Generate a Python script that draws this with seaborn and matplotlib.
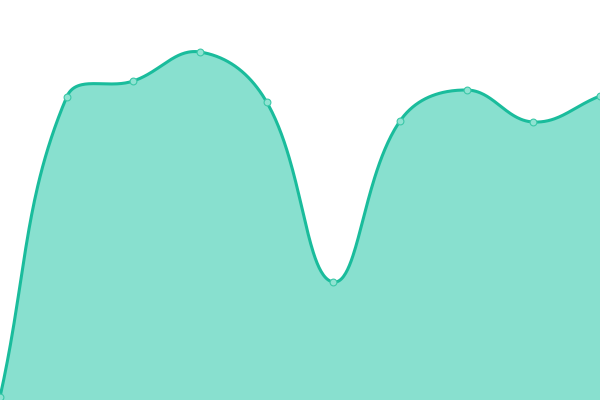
import numpy as np
import pandas as pd
import matplotlib
matplotlib.use("Agg")
import matplotlib.pyplot as plt
import seaborn as sns

# data
categories = list(range(10))
values = [3, 303, 319, 348, 298, 118, 279, 310, 278, 304]

LINE = "#1abc9c"
FILL = "#88e0cf"

sns.set_theme(style="white")
fig = plt.figure(figsize=(6, 4), dpi=100)
ax = fig.add_axes([0, 0, 1, 1])
ax.set_xlim(0, 9)
ax.set_ylim(0, 400)
ax.set_axis_off()

# Chart.js-style spline (tension 0.4) in display space
pts = ax.transData.transform(np.column_stack([categories, values]).astype(float))
n = len(pts)
tension = 0.4
cp_prev = np.zeros_like(pts)
cp_next = np.zeros_like(pts)
for i in range(n):
    cur = pts[i]
    prev = pts[i - 1] if i > 0 else cur
    nxt = pts[i + 1] if i < n - 1 else cur
    d01 = np.hypot(*(cur - prev))
    d12 = np.hypot(*(nxt - cur))
    tot = d01 + d12
    s01 = d01 / tot if tot else 0
    s12 = d12 / tot if tot else 0
    fa = tension * s01
    fb = tension * s12
    cp_prev[i] = cur - fa * (nxt - prev)
    cp_next[i] = cur + fb * (nxt - prev)

# cap control points to area
bbox = ax.bbox
for arr in (cp_prev, cp_next):
    arr[:, 0] = np.clip(arr[:, 0], bbox.x0, bbox.x1)
    arr[:, 1] = np.clip(arr[:, 1], bbox.y0, bbox.y1)

curve = []
tt = np.linspace(0, 1, 60)[:, None]
for i in range(n - 1):
    p0, p1, p2, p3 = pts[i], cp_next[i], cp_prev[i + 1], pts[i + 1]
    seg = ((1 - tt) ** 3) * p0 + 3 * ((1 - tt) ** 2) * tt * p1 + 3 * (1 - tt) * tt ** 2 * p2 + tt ** 3 * p3
    curve.append(seg if i == 0 else seg[1:])
curve = np.vstack(curve)
curve_data = ax.transData.inverted().transform(curve)
df_curve = pd.DataFrame({"x": curve_data[:, 0], "y": curve_data[:, 1]})

ax.fill_between(df_curve["x"], df_curve["y"], 0, color=FILL, linewidth=0, zorder=1)
sns.lineplot(data=df_curve, x="x", y="y", sort=False, color=LINE, linewidth=2.2,
             ax=ax, zorder=2)
df_pts = pd.DataFrame({"x": categories, "y": values})
sns.scatterplot(data=df_pts, x="x", y="y", s=24, color="#8fe3d2", edgecolor="#3cc8a8",
                linewidth=0.8, ax=ax, zorder=3, clip_on=False)
ax.set_xlim(0, 9)
ax.set_ylim(0, 400)
ax.set_axis_off()

fig.savefig("out.png", dpi=100)
